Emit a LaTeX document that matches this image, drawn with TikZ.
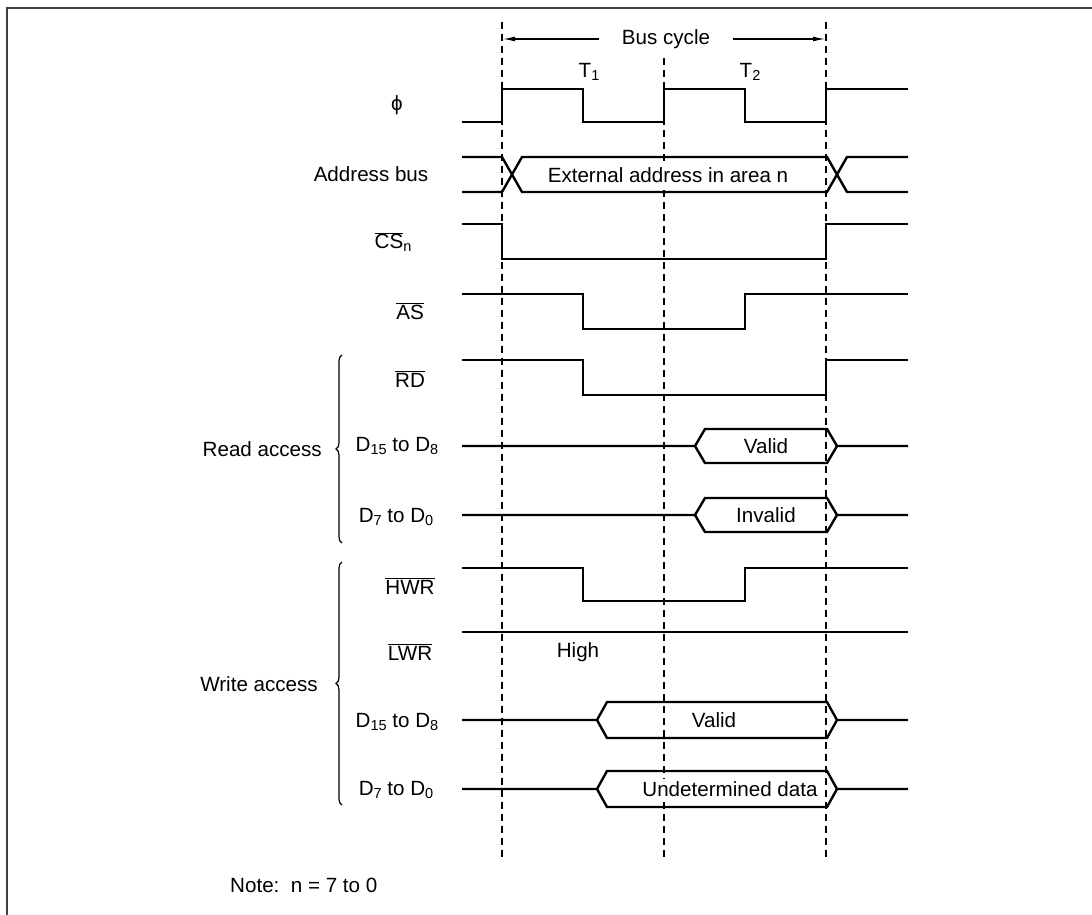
\documentclass[tikz,border=0pt]{standalone}
\usepackage{fontspec}
\setmainfont{Liberation Sans}
\usetikzlibrary{arrows.meta,decorations.pathreplacing}
\newcommand\dsub[1]{\raisebox{-0.3ex}{\fontsize{14.5}{15}\selectfont #1}}
\newcommand\ovl[1]{$\overline{\hbox{#1}}$}
\begin{document}
\begin{tikzpicture}[x=1pt,y=-1pt,
 lbl/.style={font=\fontsize{20.6}{24}\selectfont, inner sep=0pt},
 wlbl/.style={lbl, fill=white, inner xsep=1pt, inner ysep=2pt},
 sig/.style={line width=2.4pt, line join=miter},
 gridln/.style={line width=1.2pt, dash pattern=on 7pt off 5pt},
 framel/.style={line width=2pt, draw=black!75},
 brc/.style={line width=1.2pt, decorate, decoration={brace, amplitude=6pt}},
 arr/.style={line width=1.2pt, -{Latex[length=12pt,width=5pt]}}]
\useasboundingbox (0,0) rectangle (1092,915);
\draw[framel] (7,915) -- (7,8) -- (1092,8);

% grid lines
\coordinate (g1t) at (502,22); \coordinate (g1b) at (502,858);
\coordinate (g2t) at (664,58); \coordinate (g2b) at (664,858);
\coordinate (g3t) at (826,22); \coordinate (g3b) at (826,858);
\draw[gridln] (g1t) -- (g1b);
\draw[gridln] (g2t) -- (g2b);
\draw[gridln] (g3t) -- (g3b);

% bus cycle
\node[lbl, fill=white, inner xsep=23pt] (bc) at (666,39) {Bus cycle};
\coordinate (bcL) at (503,39); \coordinate (bcR) at (825,39);
\draw[arr] (bc.west) -- (bcL);
\draw[arr] (bc.east) -- (bcR);
\node[lbl] (t1) at (589,72) {T\dsub{1}};
\node[lbl] (t2) at (750,72) {T\dsub{2}};

% labels
\node[lbl] (lphi) at (397,105) {ϕ};
\node[lbl] (laddr) at (371,174) {Address bus};
\node[lbl] (lcs) at (393,242) {\ovl{CS}\dsub{n}};
\node[lbl] (las) at (410,311) {\ovl{AS}};
\node[lbl] (lrd) at (410,379) {\ovl{RD}};
\node[lbl] (lrdh) at (397,446) {D\dsub{15} to D\dsub{8}};
\node[lbl] (lrdl) at (396,517) {D\dsub{7} to D\dsub{0}};
\node[lbl] (lhwr) at (410,586) {\ovl{HWR}};
\node[lbl] (llwr) at (410,652) {\ovl{LWR}};
\node[lbl] (lwrh) at (397,722) {D\dsub{15} to D\dsub{8}};
\node[lbl] (lwrl) at (396,790) {D\dsub{7} to D\dsub{0}};
\node[lbl, anchor=east] (lread) at (322,449) {Read access};
\node[lbl, anchor=east] (lwrite) at (318,684) {Write access};
\node[lbl] (lhigh) at (578,652) {High};
\node[lbl, anchor=west] (note) at (230,885) {Note:\ \ n = 7 to 0};

% braces
\draw[brc] (342,543) -- (342,355);
\draw[brc] (342,805) -- (342,562);

% phi
\draw[sig] (462,122) -- (502,122) -- (502,89) -- (583,89) -- (583,122) -- (664,122) -- (664,89) -- (745,89) -- (745,122) -- (826,122) -- (826,89) -- (908,89);
% address bus
\draw[sig] (462,157) -- (502,157) -- (522,192) -- (827,192) -- (847,157) -- (908,157);
\draw[sig] (462,192) -- (502,192) -- (522,157) -- (827,157) -- (847,192) -- (908,192);
\node[wlbl] (ea) at (668,175) {External address in area n};
% CS
\draw[sig] (462,224) -- (502,224) -- (502,259) -- (826,259) -- (826,224) -- (908,224);
% AS
\draw[sig] (462,294) -- (583,294) -- (583,329) -- (745,329) -- (745,294) -- (908,294);
% RD
\draw[sig] (462,360) -- (583,360) -- (583,395) -- (826,395) -- (826,360) -- (908,360);
% read D15-D8
\draw[sig] (462,446) -- (695,446) -- (705,429) -- (827,429) -- (837,446) -- (908,446);
\draw[sig] (695,446) -- (705,463) -- (827,463) -- (837,446);
\node[lbl] (v1) at (766,446) {Valid};
% read D7-D0
\draw[sig] (462,515) -- (695,515) -- (705,498) -- (827,498) -- (837,515) -- (908,515);
\draw[sig] (695,515) -- (705,532) -- (827,532) -- (837,515);
\node[lbl] (inv) at (766,515) {Invalid};
% HWR
\draw[sig] (462,568) -- (583,568) -- (583,601) -- (745,601) -- (745,568) -- (908,568);
% LWR
\draw[sig] (462,632) -- (908,632);
% write D15-D8
\draw[sig] (462,720) -- (597,720) -- (607,702) -- (827,702) -- (837,720) -- (908,720);
\draw[sig] (597,720) -- (607,738) -- (827,738) -- (837,720);
\node[lbl] (v2) at (714,720) {Valid};
% write D7-D0
\draw[sig] (462,789) -- (597,789) -- (607,771) -- (827,771) -- (837,789) -- (908,789);
\draw[sig] (597,789) -- (607,807) -- (827,807) -- (837,789);
\node[wlbl] (und) at (730,789) {Undetermined data};
\end{tikzpicture}
\end{document}
